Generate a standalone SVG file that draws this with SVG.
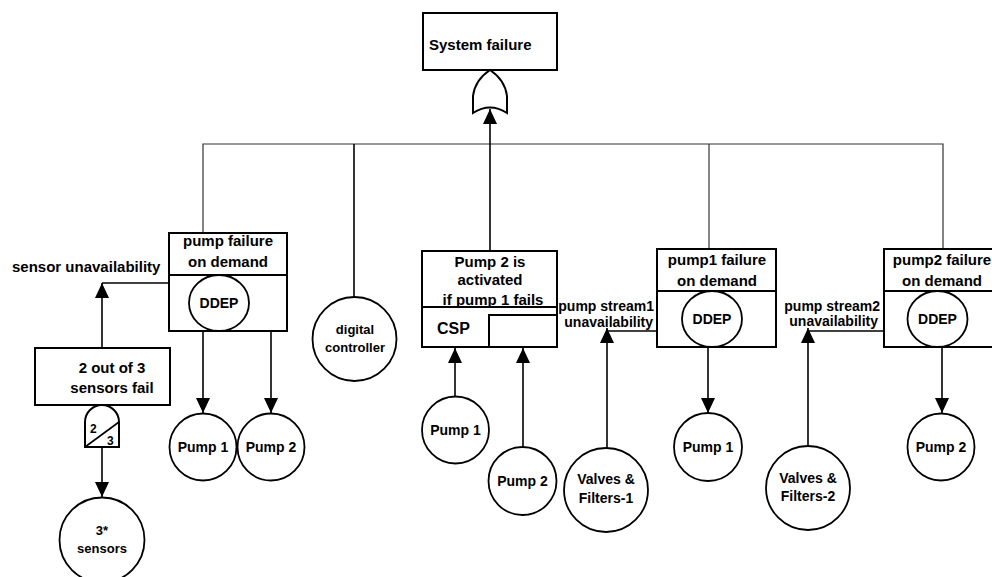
<svg xmlns="http://www.w3.org/2000/svg" width="992" height="577" viewBox="0 0 992 577">
<defs>
<marker id="ah" markerUnits="userSpaceOnUse" markerWidth="15" markerHeight="14" refX="15" refY="7" orient="auto">
<path d="M0,0 L15,7 L0,14 Z" fill="#000"/>
</marker>
<style>
text{font-family:"Liberation Sans",Arial,sans-serif;font-weight:bold;fill:#000}
.box{fill:#fff;stroke:#000;stroke-width:2}
.circ{fill:#fff;stroke:#000;stroke-width:1.8}
.ln{fill:none;stroke:#000;stroke-width:1.6}
.bus{fill:none;stroke:#333;stroke-width:1.2}
.t15{font-size:15px}
.t14{font-size:14px}
.t13{font-size:13px}
.mid{text-anchor:middle}
.end{text-anchor:end}
</style>
</defs>
<rect width="992" height="577" fill="#fff"/>

<g id="connectors">
<polyline class="bus" points="203,233 203,144 943,144 943,249"/>
<line class="bus" x1="709" y1="144" x2="709" y2="249"/>
<line class="ln" x1="354" y1="144" x2="354" y2="298"/>
<line class="ln" x1="490" y1="251" x2="490" y2="109" marker-end="url(#ah)"/>
<line class="ln" x1="203" y1="331" x2="203" y2="413" marker-end="url(#ah)"/>
<line class="ln" x1="271" y1="331" x2="271" y2="413" marker-end="url(#ah)"/>
<line class="ln" x1="102" y1="348" x2="102" y2="283" marker-end="url(#ah)"/>
<line class="ln" x1="102" y1="283" x2="169" y2="283"/>
<line class="ln" x1="102" y1="447" x2="102" y2="497" marker-end="url(#ah)"/>
<line class="ln" x1="455" y1="397" x2="455" y2="348" marker-end="url(#ah)"/>
<line class="ln" x1="523" y1="447" x2="523" y2="348" marker-end="url(#ah)"/>
<line class="ln" x1="607" y1="448" x2="607" y2="328" marker-end="url(#ah)"/>
<line class="ln" x1="607" y1="331" x2="657" y2="331"/>
<line class="ln" x1="708" y1="347" x2="708" y2="413" marker-end="url(#ah)"/>
<line class="ln" x1="808" y1="446" x2="808" y2="328" marker-end="url(#ah)"/>
<line class="ln" x1="808" y1="331" x2="893" y2="331"/>
<line class="ln" x1="942" y1="347" x2="942" y2="413" marker-end="url(#ah)"/>
</g>

<g id="system-failure">
<rect class="box" x="423" y="13" width="134" height="57"/>
<text class="t15" x="429" y="50">System failure</text>
</g>
<g id="or-gate">
<path class="box" d="M490,70 Q475,80 473,96 L473,113 Q490,102 507,113 L507,96 Q505,80 490,70 Z"/>
</g>

<g id="pump-failure-on-demand">
<rect class="box" x="169" y="233" width="118" height="98"/>
<line class="ln" x1="169" y1="275" x2="287" y2="275" style="stroke-width:2"/>
<text class="t15 mid" x="228" y="246">pump failure</text>
<text class="t15 mid" x="228" y="267">on demand</text>
<ellipse class="circ" cx="219" cy="303" rx="30" ry="28"/>
<text class="t14 mid" x="219" y="308">DDEP</text>
</g>
<g id="sensor-unavailability">
<text class="t15" x="12" y="272">sensor unavailability</text>
</g>
<g id="two-of-three">
<rect class="box" x="35" y="348" width="135" height="57"/>
<text class="t15 mid" x="112" y="373">2 out of 3</text>
<text class="t15 mid" x="112" y="393">sensors fail</text>
</g>
<g id="vote-gate">
<path class="box" d="M85,447 L85,422 A17,17 0 0 1 119,422 L119,447 Z"/>
<line class="ln" x1="85" y1="447" x2="119" y2="422"/>
<text x="90" y="433" style="font-size:12px">2</text>
<text x="107" y="445" style="font-size:12px">3</text>
</g>
<g id="sensors">
<circle class="circ" cx="102" cy="540" r="42.5"/>
<text class="t13 mid" x="102" y="535">3*</text>
<text class="t13 mid" x="102" y="553">sensors</text>
</g>
<g id="pump1-a">
<circle class="circ" cx="203" cy="447" r="33.5"/>
<text class="t14 mid" x="203" y="452">Pump 1</text>
</g>
<g id="pump2-a">
<circle class="circ" cx="271" cy="447" r="33.5"/>
<text class="t14 mid" x="271" y="452">Pump 2</text>
</g>
<g id="digital-controller">
<circle class="circ" cx="354.5" cy="339" r="42"/>
<text class="t13 mid" x="355" y="334">digital</text>
<text class="t13 mid" x="355" y="352">controller</text>
</g>

<g id="csp">
<rect class="box" x="422" y="251" width="135" height="96"/>
<line class="ln" x1="422" y1="307" x2="557" y2="307" style="stroke-width:2"/>
<rect class="box" x="489" y="315" width="68" height="32"/>
<text class="t15 mid" x="490" y="267">Pump 2 is</text>
<text class="t15 mid" x="490" y="285">activated</text>
<text class="t15 mid" x="493" y="305">if pump 1 fails</text>
<text x="437" y="334" style="font-size:16px">CSP</text>
</g>
<g id="pump1-b">
<circle class="circ" cx="455.5" cy="430" r="33.5"/>
<text class="t14 mid" x="455.5" y="435">Pump 1</text>
</g>
<g id="pump2-b">
<circle class="circ" cx="522.5" cy="481" r="34"/>
<text class="t14 mid" x="522.5" y="486">Pump 2</text>
</g>

<g id="pump-stream1">
<text class="t14 end" x="654" y="311">pump stream1</text>
<text class="t14 end" x="653" y="327">unavailability</text>
</g>
<g id="valves-filters-1">
<circle class="circ" cx="606" cy="490" r="42"/>
<text class="t14 mid" x="606" y="484">Valves &amp;</text>
<text class="t14 mid" x="606" y="503">Filters-1</text>
</g>
<g id="pump1-failure-on-demand">
<rect class="box" x="657" y="249" width="119" height="98"/>
<line class="ln" x1="657" y1="291" x2="776" y2="291" style="stroke-width:2"/>
<text class="t15 mid" x="717" y="265">pump1 failure</text>
<text class="t15 mid" x="717" y="286">on demand</text>
<ellipse class="circ" cx="712" cy="319" rx="30" ry="28"/>
<text class="t14 mid" x="712" y="324">DDEP</text>
</g>
<g id="pump1-c">
<circle class="circ" cx="708" cy="447" r="34"/>
<text class="t14 mid" x="708" y="452">Pump 1</text>
</g>

<g id="pump-stream2">
<text class="t14 end" x="880" y="311">pump stream2</text>
<text class="t14 end" x="878" y="326">unavailability</text>
</g>
<g id="valves-filters-2">
<circle class="circ" cx="808" cy="488" r="42"/>
<text class="t14 mid" x="808" y="483">Valves &amp;</text>
<text class="t14 mid" x="808" y="501">Filters-2</text>
</g>
<g id="pump2-failure-on-demand">
<rect class="box" x="884" y="249" width="119" height="98"/>
<line class="ln" x1="884" y1="291" x2="1003" y2="291" style="stroke-width:2"/>
<text class="t15 mid" x="942" y="265">pump2 failure</text>
<text class="t15 mid" x="942" y="286">on demand</text>
<ellipse class="circ" cx="937.5" cy="319" rx="30" ry="28"/>
<text class="t14 mid" x="937.5" y="324">DDEP</text>
</g>
<g id="pump2-c">
<circle class="circ" cx="941" cy="447" r="33.5"/>
<text class="t14 mid" x="941" y="452">Pump 2</text>
</g>
</svg>
